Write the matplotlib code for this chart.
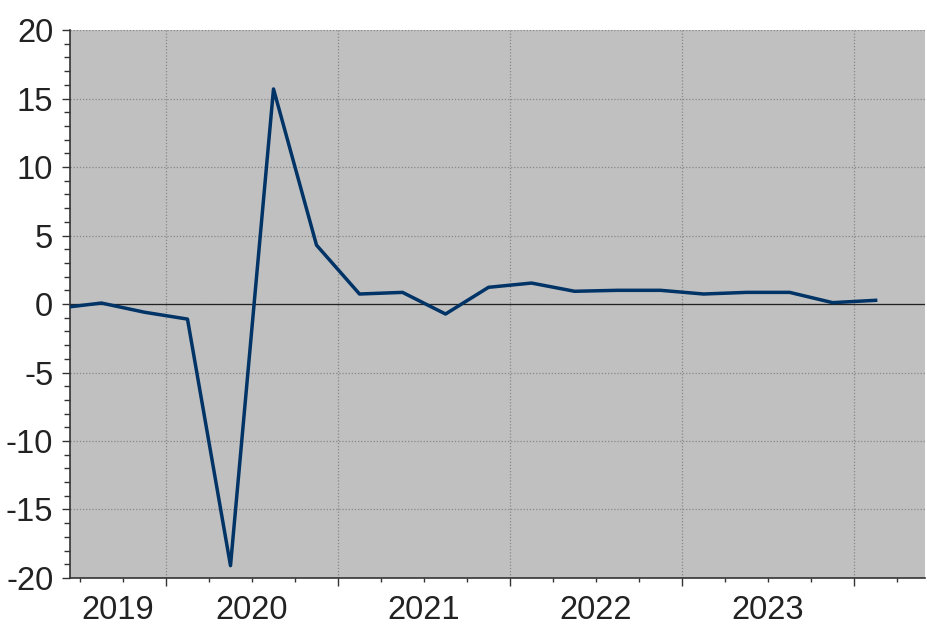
import matplotlib
matplotlib.use("Agg")
import matplotlib.pyplot as plt
from matplotlib.ticker import MultipleLocator

plt.rcParams['font.family'] = ['Liberation Sans', 'DejaVu Sans']
plt.rcParams['axes.unicode_minus'] = False

# quarterly values, plotted at mid-quarter
quarters = ["2019Q2", "2019Q3", "2019Q4", "2020Q1", "2020Q2", "2020Q3", "2020Q4",
            "2021Q1", "2021Q2", "2021Q3", "2021Q4", "2022Q1", "2022Q2", "2022Q3",
            "2022Q4", "2023Q1", "2023Q2", "2023Q3", "2023Q4", "2024Q1"]
values = [-0.3, 0.07, -0.6, -1.1, -19.1, 15.7, 4.3,
          0.73, 0.85, -0.73, 1.22, 1.53, 0.93, 1.0,
          1.0, 0.73, 0.85, 0.85, 0.1, 0.27]
year_labels = ["2019", "2020", "2021", "2022", "2023"]
label_pos = [2019.72, 2020.5, 2021.5, 2022.5, 2023.5]

x = [int(q[:4]) + (int(q[-1]) - 0.5) / 4 for q in quarters]

fig = plt.figure(figsize=(9.27, 6.26), dpi=100)
ax = fig.add_axes([0.0755, 0.0767, 0.9225, 0.8753])
ax.set_facecolor("#c0c0c0")

ax.plot(x, values, color="#003366", lw=2.5, zorder=3)
ax.axhline(0, color="#222222", lw=0.9, zorder=2)

ax.set_xlim(2019.442, 2024.413)
ax.set_ylim(-20, 20)

ax.xaxis.set_major_locator(MultipleLocator(1))
ax.xaxis.set_minor_locator(MultipleLocator(0.25))
ax.yaxis.set_major_locator(MultipleLocator(5))
ax.yaxis.set_minor_locator(MultipleLocator(1))
ax.set_xticklabels([])

# year labels sit between the year-boundary ticks
for lp, lab in zip(label_pos, year_labels):
    ax.text(lp, -0.075, lab, transform=ax.get_xaxis_transform(),
            ha="center", va="baseline", fontsize=23.5, color="#222222")

ax.grid(True, which="major", color="#888888", ls=(0, (1, 1.5)), lw=0.9)
ax.set_axisbelow(True)

ax.tick_params(axis="y", which="major", length=6, width=1, color="#333333",
               labelsize=23.5, labelcolor="#222222", pad=6)
ax.tick_params(axis="y", which="minor", length=4, width=1, color="#333333")
ax.tick_params(axis="x", which="major", length=6, width=1, color="#333333")
ax.tick_params(axis="x", which="minor", length=3, width=1, color="#333333")

for s in ["top", "right"]:
    ax.spines[s].set_visible(False)
for s in ["left", "bottom"]:
    ax.spines[s].set_color("#333333")
    ax.spines[s].set_linewidth(1.2)

fig.savefig("out.png", dpi=100)
